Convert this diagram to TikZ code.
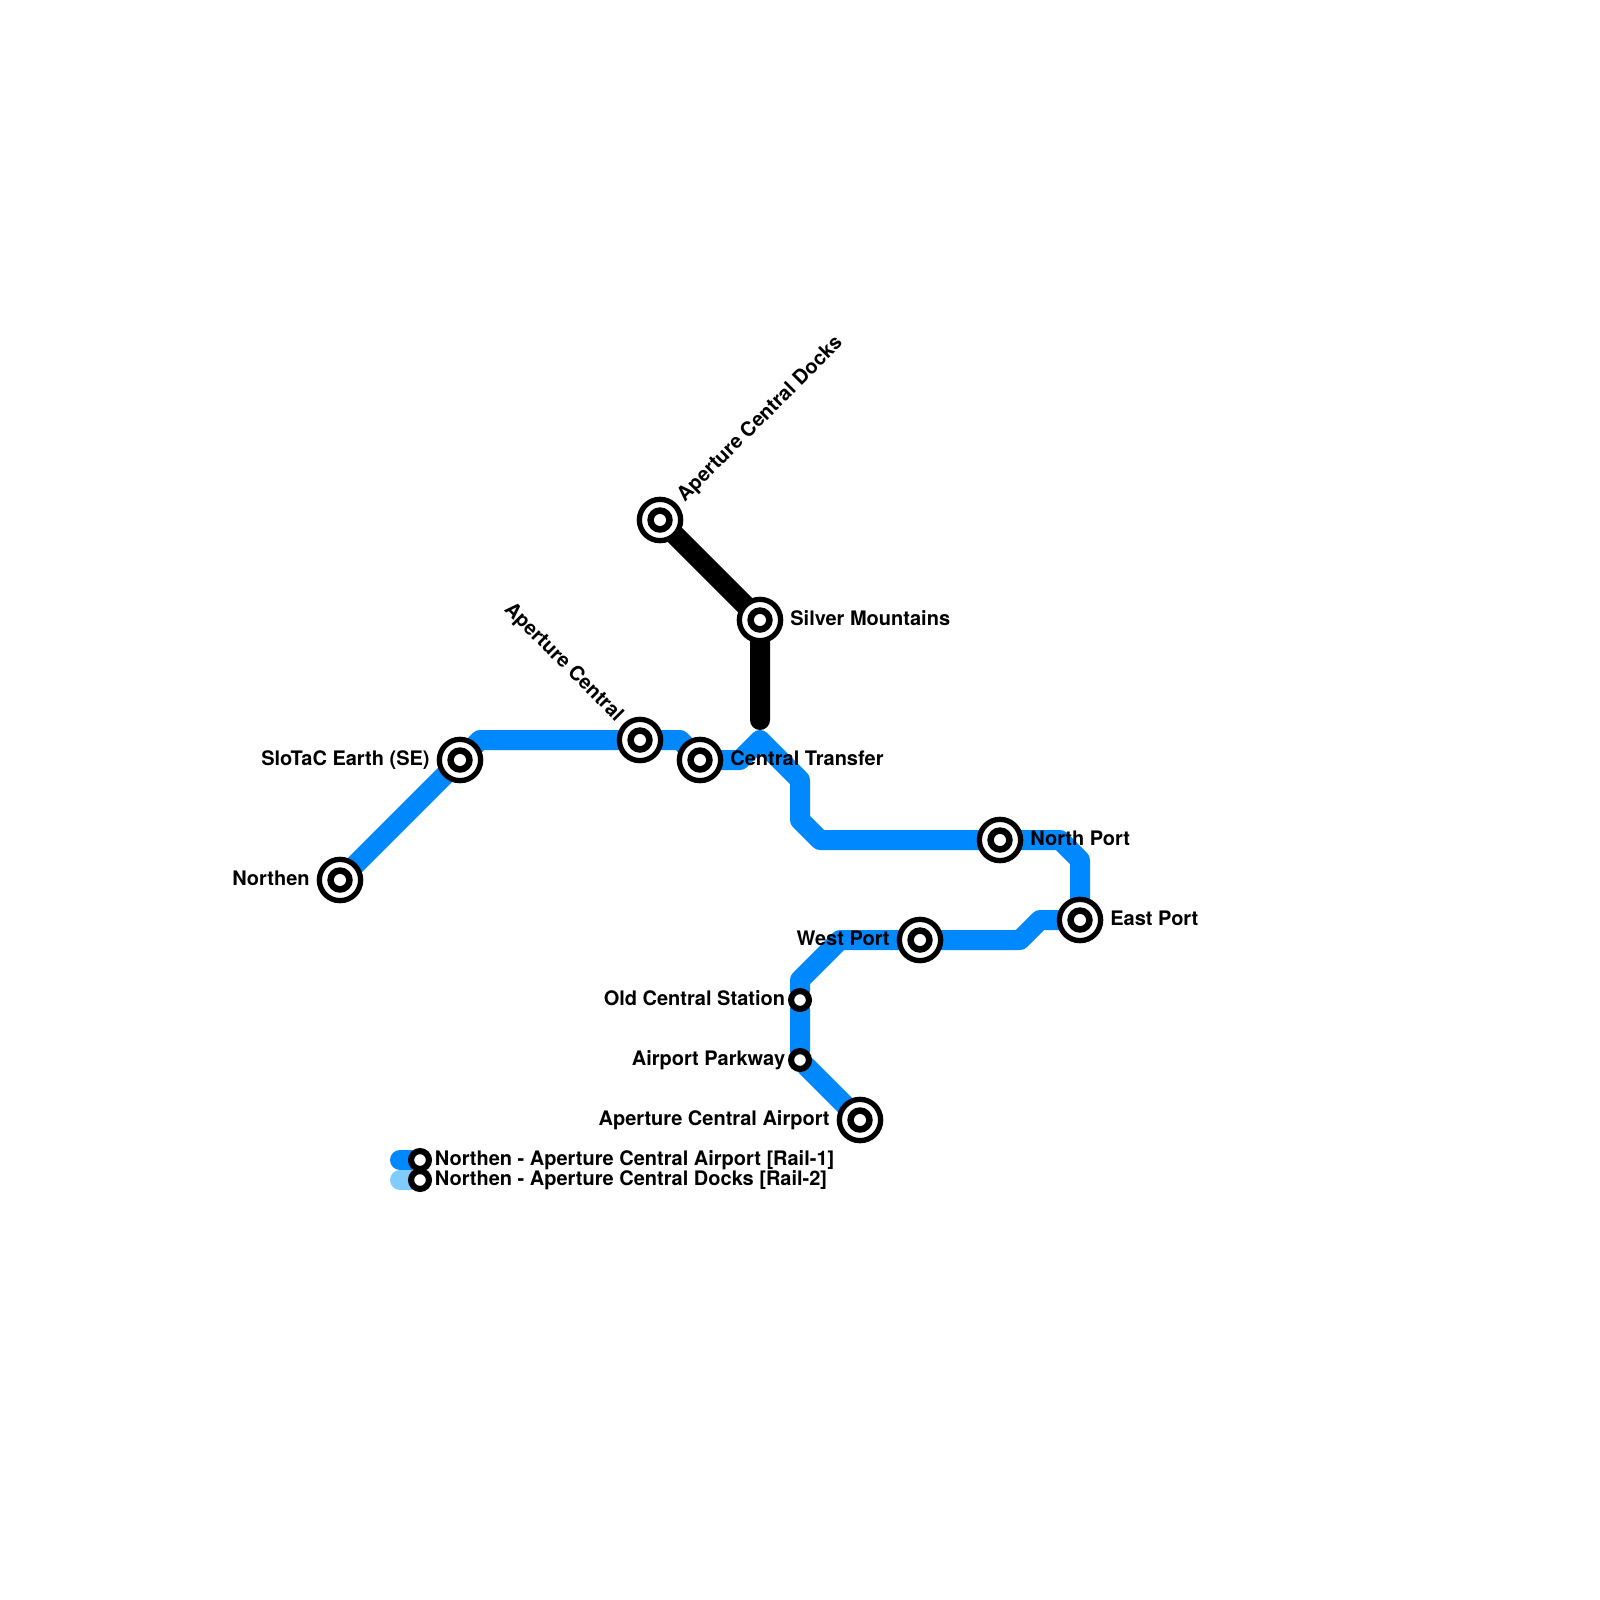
\documentclass[tikz,border=0pt]{standalone}
\usepackage{fontspec}
\setmainfont{TeX Gyre Heros}
\usetikzlibrary{positioning,backgrounds}
\definecolor{railone}{HTML}{0088FF}
\definecolor{railtwo}{HTML}{80CCFF}
\tikzset{ic/.style={circle,draw,fill=white,line width=2.65pt,inner sep=0pt,outer sep=0pt,minimum size=20.65pt,
  path picture={\draw[line width=3.25pt](path picture bounding box.center) circle (4.72pt);}},
 sm/.style={circle,draw,fill=white,line width=3.05pt,inner sep=0pt,outer sep=0pt,minimum size=8.95pt},
 ln/.style={line width=10pt,line join=round,line cap=round},
 lb/.style={font=\fontsize{10}{12}\selectfont\bfseries,inner sep=0pt,text height=7.2pt,text depth=0pt,yshift=0.8pt}}
\begin{document}
\begin{tikzpicture}[x=0.5pt,y=-0.5pt]
\useasboundingbox (0,0) rectangle (1600,1600);
\node[ic](northen) at (340,880){};\node[ic](slotac) at (460,760){};\node[ic](central) at (640,740){};\node[ic](transfer) at (700,760){};
\node[ic](docks) at (660,520){};\node[ic](silver) at (760,620){};\node[ic](north) at (1000,840){};\node[ic](east) at (1080,920){};
\node[ic](west) at (920,940){};\node[sm](old) at (800,1000){};\node[sm](parkway) at (800,1060){};\node[ic](airport) at (860,1120){};
\node[sm](keya) at (420,1160){};\node[sm](keyb) at (420,1180){};
\coordinate(b1) at (480,740);\coordinate(b2) at (680,740);\coordinate(b3) at (740,760);\coordinate(b4) at (760,740);\coordinate(b5) at (800,780);
\coordinate(b6) at (800,820);\coordinate(b7) at (820,840);\coordinate(b8) at (1060,840);\coordinate(b9) at (1080,860);\coordinate(b10) at (1040,920);
\coordinate(b11) at (1020,940);\coordinate(b12) at (840,940);\coordinate(b13) at (800,980);\coordinate(e1) at (760,720);\coordinate(k1) at (400,1160);\coordinate(k2) at (400,1180);
\begin{scope}[on background layer]
\draw[ln,railone](northen)--(slotac)--(b1)--(central)--(b2)--(transfer)--(b3)--(b4)--(b5)--(b6)--(b7)--(north)--(b8)--(b9)--(east)--(b10)--(b11)--(west)--(b12)--(b13)--(old)--(parkway)--(airport);
\draw[ln,black](docks)--(silver)--(e1);\draw[ln,railone](k1)--(keya);\draw[ln,railtwo](k2)--(keyb);
\end{scope}
\node[lb,left=4.67pt of northen](lnorthen){Northen};\node[lb,left=4.67pt of slotac](lslotac){SloTaC Earth (SE)};
\node[lb,right=4.67pt of silver](lsilver){Silver Mountains};\node[lb,right=4.67pt of transfer](ltransfer){Central Transfer};
\node[lb,right=4.67pt of north](lnorth){North Port};\node[lb,right=4.67pt of east](least){East Port};
\node[lb,left=4.67pt of west](lwest){West Port};\node[lb,left=2.77pt of old](lold){Old Central Station};
\node[lb,left=2.77pt of parkway](lparkway){Airport Parkway};\node[lb,left=4.67pt of airport](lairport){Aperture Central Airport};
\node[lb,right=2.77pt of keya](lkeya){Northen - Aperture Central Airport [Rail-1]};\node[lb,right=2.77pt of keyb](lkeyb){Northen - Aperture Central Docks [Rail-2]};
\node[lb,xshift=9.8pt,yshift=10.45pt,rotate=45,anchor=west](ldocks) at (docks){Aperture Central Docks};
\node[lb,xshift=-9.5pt,yshift=10.45pt,rotate=-45,anchor=east](lcentral) at (central){Aperture Central};
\end{tikzpicture}
\end{document}
